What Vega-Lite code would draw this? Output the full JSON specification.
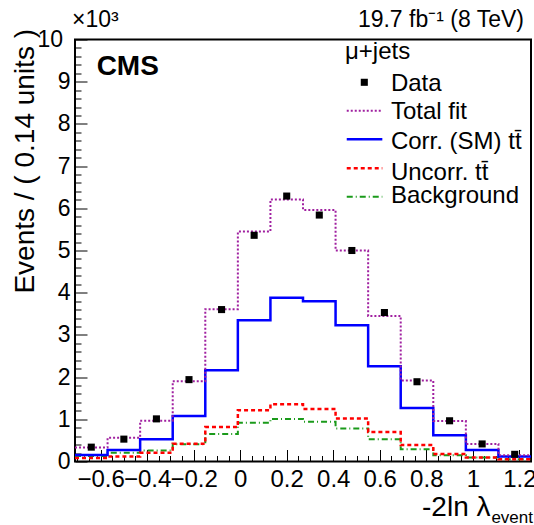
{
  "$schema": "https://vega.github.io/schema/vega-lite/v6.json",
  "width": 456,
  "height": 422,
  "autosize": {"type": "none"},
  "padding": {"left": 75, "top": 39.5, "right": 3, "bottom": 63.5},
  "config": {
    "font": "Liberation Sans",
    "view": {"stroke": "#000000", "strokeWidth": 2},
    "axis": {"grid": false, "domain": false, "tickColor": "#000000", "tickWidth": 1, "labelColor": "#000000", "titleColor": "#000000", "labelFont": "Liberation Sans", "titleFont": "Liberation Sans", "titleFontWeight": "normal", "labelOverlap": false, "labelFlush": false, "labelBound": false}
  },
  "resolve": {"axis": {"x": "independent", "y": "independent"}},
  "datasets": {
    "bins": [
      {"lo": -0.71, "c": -0.64, "data": 0.34, "fit": 0.33, "corr": 0.157, "uncorr": 0.08, "bkg": 0.133},
      {"lo": -0.57, "c": -0.50, "data": 0.53, "fit": 0.565, "corr": 0.275, "uncorr": 0.118, "bkg": 0.21},
      {"lo": -0.43, "c": -0.36, "data": 1.01, "fit": 0.965, "corr": 0.525, "uncorr": 0.21, "bkg": 0.26},
      {"lo": -0.29, "c": -0.22, "data": 1.94, "fit": 1.90, "corr": 1.08, "uncorr": 0.42, "bkg": 0.41},
      {"lo": -0.15, "c": -0.08, "data": 3.60, "fit": 3.61, "corr": 2.16, "uncorr": 0.815, "bkg": 0.65},
      {"lo": -0.01, "c": 0.06, "data": 5.36, "fit": 5.45, "corr": 3.35, "uncorr": 1.216, "bkg": 0.918},
      {"lo": 0.13, "c": 0.20, "data": 6.29, "fit": 6.21, "corr": 3.88, "uncorr": 1.357, "bkg": 1.01},
      {"lo": 0.27, "c": 0.34, "data": 5.84, "fit": 5.96, "corr": 3.80, "uncorr": 1.247, "bkg": 0.94},
      {"lo": 0.41, "c": 0.48, "data": 5.00, "fit": 5.00, "corr": 3.23, "uncorr": 1.02, "bkg": 0.78},
      {"lo": 0.55, "c": 0.62, "data": 3.53, "fit": 3.45, "corr": 2.26, "uncorr": 0.70, "bkg": 0.53},
      {"lo": 0.69, "c": 0.76, "data": 1.89, "fit": 1.92, "corr": 1.27, "uncorr": 0.39, "bkg": 0.29},
      {"lo": 0.83, "c": 0.90, "data": 0.965, "fit": 0.957, "corr": 0.62, "uncorr": 0.18, "bkg": 0.15},
      {"lo": 0.97, "c": 1.04, "data": 0.416, "fit": 0.416, "corr": 0.275, "uncorr": 0.094, "bkg": 0.094},
      {"lo": 1.11, "c": 1.18, "data": 0.17, "fit": 0.15, "corr": 0.118, "uncorr": 0.055, "bkg": 0.055},
      {"lo": 1.25, "fit": 0.15, "corr": 0.118, "uncorr": 0.055, "bkg": 0.055}
    ],
    "one": [{}]
  },
  "data": {"name": "bins"},
  "layer": [
    {
      "mark": {"type": "line", "interpolate": "step-after", "color": "#1a9a1a", "strokeWidth": 2, "strokeDash": [6, 3, 1, 3]},
      "encoding": {
        "x": {"field": "lo", "type": "quantitative", "scale": {"domain": [-0.71, 1.25], "nice": false, "zero": false},
          "axis": {
            "orient": "bottom",
            "values": [-0.6, -0.4, -0.2, 0, 0.2, 0.4, 0.6, 0.8, 1, 1.2],
            "tickSize": -12,
            "labelExpr": "replace(toString(round(datum.value*10)/10), '-', '−')",
            "labelFontSize": 24,
            "labelPadding": 18,
            "title": "-2ln λ",
            "titleFontSize": 28,
            "titleAlign": "right",
            "titleBaseline": "alphabetic",
            "titleX": 415,
            "titleY": 53.5
          }
        },
        "y": {"field": "bkg", "type": "quantitative", "scale": {"domain": [0, 10], "nice": false},
          "axis": {
            "orient": "left",
            "values": [0, 1, 2, 3, 4, 5, 6, 7, 8, 9, 10],
            "tickSize": -12,
            "labelExpr": "datum.value == 10 ? '' : toString(round(datum.value))",
            "labelFontSize": 23,
            "labelPadding": 17,
            "title": "Events / ( 0.14 units )",
            "titleFontSize": 28,
            "titleAngle": 270,
            "titleAlign": "right",
            "titleBaseline": "middle",
            "titleX": -50,
            "titleY": -11
          }
        }
      }
    },
    {
      "mark": {"type": "line", "interpolate": "step-after", "color": "#ff0000", "strokeWidth": 2.5, "strokeDash": [4, 3]},
      "encoding": {
        "x": {"field": "lo", "type": "quantitative",
          "axis": {
            "orient": "bottom",
            "values": [-0.7, -0.65, -0.55, -0.5, -0.45, -0.35, -0.3, -0.25, -0.15, -0.1, -0.05, 0.05, 0.1, 0.15, 0.25, 0.3, 0.35, 0.45, 0.5, 0.55, 0.65, 0.7, 0.75, 0.85, 0.9, 0.95, 1.05, 1.1, 1.15],
            "tickSize": -6,
            "labels": false,
            "title": null
          }
        },
        "y": {"field": "uncorr", "type": "quantitative",
          "axis": {
            "orient": "left",
            "values": [0.2, 0.4, 0.6, 0.8, 1.2, 1.4, 1.6, 1.8, 2.2, 2.4, 2.6, 2.8, 3.2, 3.4, 3.6, 3.8, 4.2, 4.4, 4.6, 4.8, 5.2, 5.4, 5.6, 5.8, 6.2, 6.4, 6.6, 6.8, 7.2, 7.4, 7.6, 7.8, 8.2, 8.4, 8.6, 8.8, 9.2, 9.4, 9.6, 9.8],
            "tickSize": -6,
            "labels": false,
            "title": null
          }
        }
      }
    },
    {
      "mark": {"type": "line", "interpolate": "step-after", "color": "#0000ff", "strokeWidth": 2.5},
      "encoding": {
        "x": {"field": "lo", "type": "quantitative", "axis": null},
        "y": {"field": "corr", "type": "quantitative", "axis": null}
      }
    },
    {
      "mark": {"type": "line", "interpolate": "step-after", "color": "#a020a0", "strokeWidth": 2, "strokeDash": [2, 2]},
      "encoding": {
        "x": {"field": "lo", "type": "quantitative", "axis": null},
        "y": {"field": "fit", "type": "quantitative", "axis": null}
      }
    },
    {
      "transform": [{"filter": "isValid(datum.data)"}],
      "mark": {"type": "point", "shape": "square", "filled": true, "color": "#000000", "size": 50, "opacity": 1},
      "encoding": {
        "x": {"field": "c", "type": "quantitative", "axis": null},
        "y": {"field": "data", "type": "quantitative", "axis": null}
      }
    },
    {
      "data": {"name": "one"},
      "mark": {"type": "text", "align": "right", "baseline": "middle", "fontSize": 23, "color": "#000000", "dx": -12},
      "encoding": {"x": {"datum": -0.71, "axis": null}, "y": {"datum": 10, "axis": null}, "text": {"value": "10"}}
    },
    {
      "data": {"name": "one"},
      "mark": {"type": "text", "align": "left", "baseline": "middle", "fontSize": 28, "fontWeight": "bold", "color": "#000000"},
      "encoding": {"x": {"datum": -0.617, "axis": null}, "y": {"datum": 9.355, "axis": null}, "text": {"value": "CMS"}}
    },
    {
      "data": {"name": "one"},
      "mark": {"type": "text", "align": "left", "baseline": "middle", "fontSize": 24, "color": "#000000"},
      "encoding": {"x": {"datum": 0.4505, "axis": null}, "y": {"datum": 9.70, "axis": null}, "text": {"value": "μ+jets"}}
    },
    {
      "data": {"name": "one"},
      "mark": {"type": "point", "shape": "square", "filled": true, "color": "#000000", "size": 50, "opacity": 1},
      "encoding": {"x": {"datum": 0.5335, "axis": null}, "y": {"datum": 8.986, "axis": null}}
    },
    {
      "data": {"name": "one"},
      "mark": {"type": "rule", "color": "#a020a0", "strokeWidth": 2, "strokeDash": [2, 2]},
      "encoding": {"x": {"datum": 0.458, "axis": null}, "x2": {"datum": 0.611}, "y": {"datum": 8.313, "axis": null}}
    },
    {
      "data": {"name": "one"},
      "mark": {"type": "rule", "color": "#0000ff", "strokeWidth": 2.5},
      "encoding": {"x": {"datum": 0.458, "axis": null}, "x2": {"datum": 0.611}, "y": {"datum": 7.635, "axis": null}}
    },
    {
      "data": {"name": "one"},
      "mark": {"type": "rule", "color": "#ff0000", "strokeWidth": 2.5, "strokeDash": [4, 3]},
      "encoding": {"x": {"datum": 0.458, "axis": null}, "x2": {"datum": 0.611}, "y": {"datum": 6.948, "axis": null}}
    },
    {
      "data": {"name": "one"},
      "mark": {"type": "rule", "color": "#1a9a1a", "strokeWidth": 2, "strokeDash": [6, 3, 1, 3]},
      "encoding": {"x": {"datum": 0.458, "axis": null}, "x2": {"datum": 0.611}, "y": {"datum": 6.275, "axis": null}}
    },
    {
      "data": {"name": "one"},
      "mark": {"type": "text", "align": "left", "baseline": "middle", "fontSize": 24, "color": "#000000"},
      "encoding": {"x": {"datum": 0.648, "axis": null}, "y": {"datum": 8.946, "axis": null}, "text": {"value": "Data"}}
    },
    {
      "data": {"name": "one"},
      "mark": {"type": "text", "align": "left", "baseline": "middle", "fontSize": 24, "color": "#000000"},
      "encoding": {"x": {"datum": 0.648, "axis": null}, "y": {"datum": 8.289, "axis": null}, "text": {"value": "Total fit"}}
    },
    {
      "data": {"name": "one"},
      "mark": {"type": "text", "align": "left", "baseline": "middle", "fontSize": 24, "color": "#000000"},
      "encoding": {"x": {"datum": 0.648, "axis": null}, "y": {"datum": 7.578, "axis": null}, "text": {"value": "Corr. (SM) tt̄"}}
    },
    {
      "data": {"name": "one"},
      "mark": {"type": "text", "align": "left", "baseline": "middle", "fontSize": 24, "color": "#000000"},
      "encoding": {"x": {"datum": 0.648, "axis": null}, "y": {"datum": 6.836, "axis": null}, "text": {"value": "Uncorr. tt̄"}}
    },
    {
      "data": {"name": "one"},
      "mark": {"type": "text", "align": "left", "baseline": "middle", "fontSize": 24, "color": "#000000"},
      "encoding": {"x": {"datum": 0.648, "axis": null}, "y": {"datum": 6.299, "axis": null}, "text": {"value": "Background"}}
    },
    {
      "data": {"name": "one"},
      "mark": {"type": "text", "align": "right", "baseline": "alphabetic", "fontSize": 23, "color": "#000000", "dx": -7},
      "encoding": {"x": {"datum": 1.25, "axis": null}, "y": {"datum": 10.296, "axis": null}, "text": {"value": "19.7 fb⁻¹ (8 TeV)"}}
    },
    {
      "data": {"name": "one"},
      "mark": {"type": "text", "align": "left", "baseline": "alphabetic", "fontSize": 23, "color": "#000000", "dx": -3},
      "encoding": {"x": {"datum": -0.71, "axis": null}, "y": {"datum": 10.296, "axis": null}, "text": {"value": "×10³"}}
    },
    {
      "data": {"name": "one"},
      "mark": {"type": "text", "align": "right", "baseline": "alphabetic", "fontSize": 17, "color": "#000000", "dx": 2},
      "encoding": {"x": {"datum": 1.25, "axis": null}, "y": {"datum": -1.457, "axis": null}, "text": {"value": "event"}}
    }
  ]
}
